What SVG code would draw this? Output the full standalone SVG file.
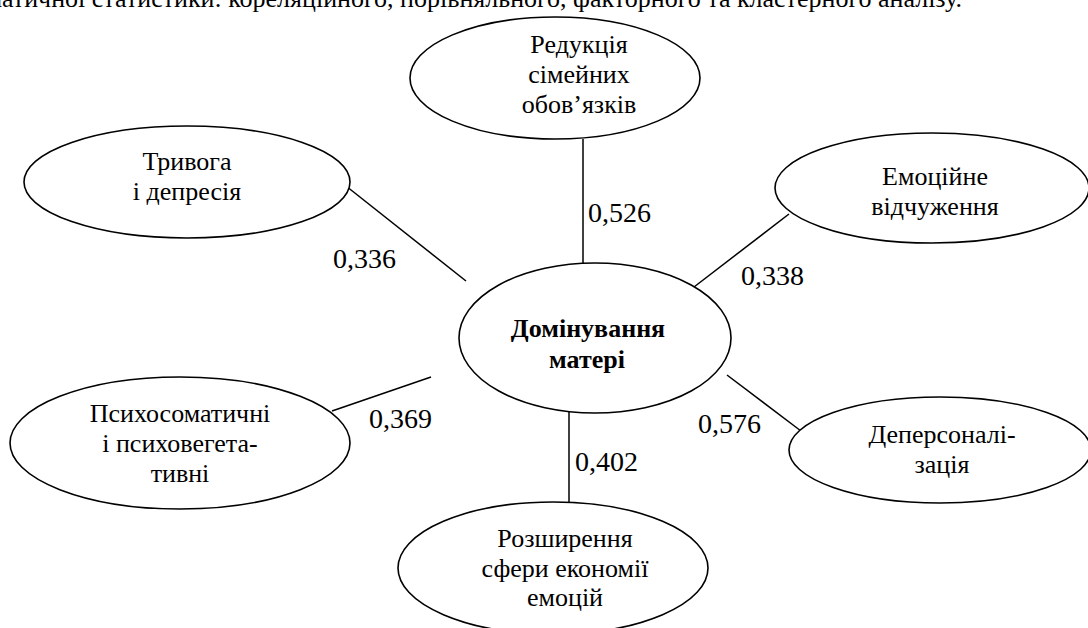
<svg xmlns="http://www.w3.org/2000/svg" width="1088" height="628" viewBox="0 0 1088 628">
<style>
.el{fill:#fff;stroke:#000;stroke-width:1.6}
.ln{stroke:#000;stroke-width:1.5;fill:none}
text{font-family:"Times New Roman",Tinos,"Liberation Serif","DejaVu Serif","Noto Serif",serif;fill:#000}
.t{font-size:26px;text-anchor:middle}
.b{font-weight:bold}
.v{font-size:28px}
.top{font-size:26px;text-anchor:end}
</style>
<rect width="1088" height="628" fill="#fff"/>
<text class="top" x="962" y="7">методами математичної статистики: кореляційного, порівняльного, факторного та кластерного аналізу.</text>
<g id="connectors">
<line class="ln" x1="583" y1="139" x2="583" y2="263"/>
<line class="ln" x1="346" y1="186" x2="466" y2="281"/>
<line class="ln" x1="789" y1="214" x2="694" y2="287"/>
<line class="ln" x1="332" y1="411" x2="431" y2="377"/>
<line class="ln" x1="727" y1="375" x2="801" y2="431"/>
<line class="ln" x1="569" y1="412" x2="569" y2="502"/>
<text class="v" x="588" y="222">0,526</text>
<text class="v" x="333" y="268">0,336</text>
<text class="v" x="741" y="285">0,338</text>
<text class="v" x="369" y="428">0,369</text>
<text class="v" x="698" y="433">0,576</text>
<text class="v" x="575" y="471">0,402</text>
</g>
<g id="n-reduction">
<ellipse class="el" cx="555" cy="78" rx="145" ry="61"/>
<text class="t" x="579" y="53">Редукція</text>
<text class="t" x="579" y="83">сімейних</text>
<text class="t" x="579" y="113">обов’язків</text>
</g>
<g id="n-anxiety">
<ellipse class="el" cx="187" cy="182" rx="163" ry="56"/>
<text class="t" x="187" y="170">Тривога</text>
<text class="t" x="187" y="200">і депресія</text>
</g>
<g id="n-emotional">
<ellipse class="el" cx="932" cy="188" rx="157" ry="55"/>
<text class="t" x="935" y="185">Емоційне</text>
<text class="t" x="935" y="215">відчуження</text>
</g>
<g id="n-center">
<ellipse class="el" cx="595" cy="338" rx="136" ry="75"/>
<text class="t b" x="588" y="337">Домінування</text>
<text class="t b" x="587" y="368">матері</text>
</g>
<g id="n-psychosomatic">
<ellipse class="el" cx="180" cy="443" rx="170" ry="66"/>
<text class="t" x="180" y="422">Психосоматичні</text>
<text class="t" x="180" y="452">і психовегета-</text>
<text class="t" x="180" y="482">тивні</text>
</g>
<g id="n-depersonalization">
<ellipse class="el" cx="940" cy="450" rx="151" ry="53"/>
<text class="t" x="942" y="443">Деперсоналі-</text>
<text class="t" x="942" y="473">зація</text>
</g>
<g id="n-expansion">
<ellipse class="el" cx="553" cy="568" rx="155" ry="66"/>
<text class="t" x="565" y="547">Розширення</text>
<text class="t" x="565" y="577">сфери економії</text>
<text class="t" x="565" y="606">емоцій</text>
</g>
</svg>
